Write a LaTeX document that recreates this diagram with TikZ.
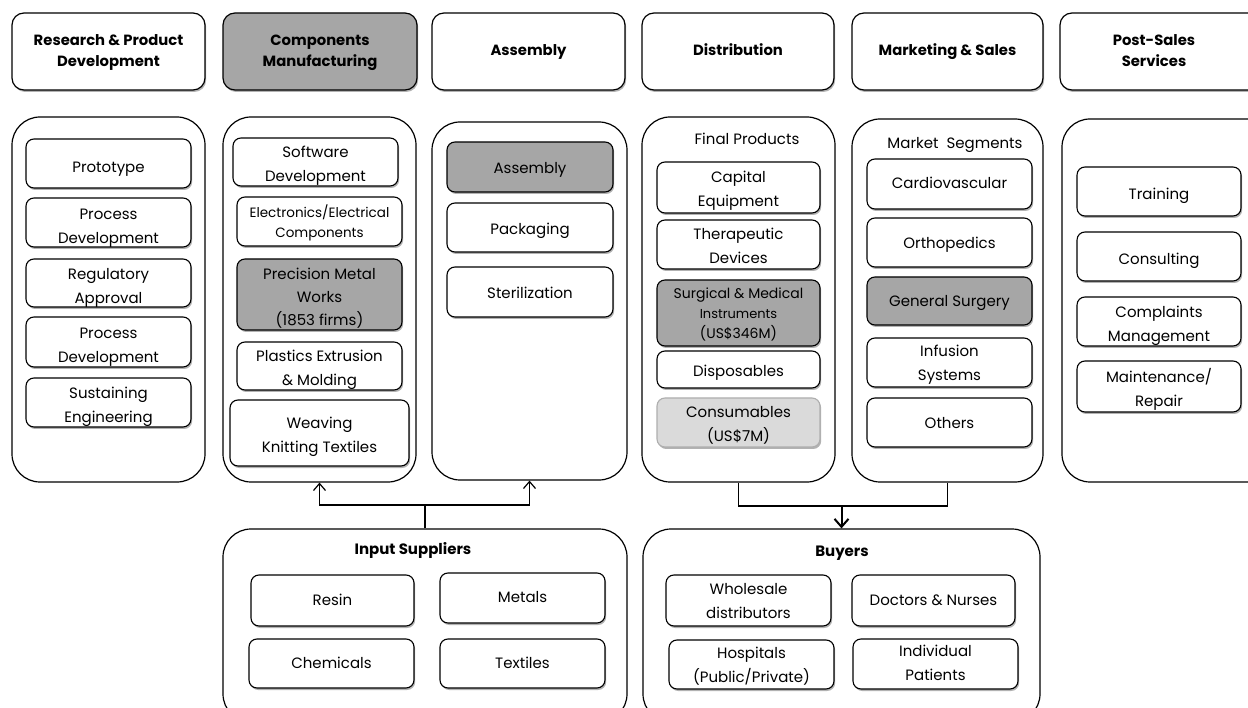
\documentclass[tikz,border=0pt]{standalone}
\usepackage{fontspec}
\setmainfont{Poppins}
\usetikzlibrary{shadows,arrows.meta}
\definecolor{hl}{RGB}{166,166,166}
\definecolor{lt}{RGB}{218,218,218}
\def\tshiftval{0pt}
\newcommand\bx[7]{\node[#6, minimum width={(#4-#2)*1pt}, minimum height={(#5-#3)*1pt}] (#1) at ({(#2+#4)/2},{(#3+#5)/2}) {\raisebox{-\tshiftval}[\height][\depth]{\begin{tabular}{@{}c@{}}#7\end{tabular}}};}
\tikzset{
  ts/.code={\def\tshiftval{#1}},
  shd/.style={drop shadow={shadow xshift=1.2pt, shadow yshift=-2pt, opacity=0.3, fill=black}},
  hdr/.style={ts=0pt, draw, line width=1.2pt, rounded corners=12pt, fill=white, shd, inner sep=0pt, font=\fontsize{14.8}{21}\selectfont\bfseries},
  colbox/.style={ts=0pt, draw, line width=1.2pt, rounded corners=28pt, inner sep=0pt},
  item/.style={ts=0pt, draw, line width=1.1pt, rounded corners=8pt, fill=white, shd, inner sep=0pt, font=\fontsize{15}{24}\selectfont},
  small/.style={font=\fontsize{13.5}{20}\selectfont},
  surg/.style={font=\fontsize{14}{20}\selectfont},
  prec/.style={font=\fontsize{15}{23}\selectfont},
  grey/.style={fill=hl},
  title/.style={inner sep=0pt, font=\fontsize{15}{18}\selectfont},
  btitle/.style={inner sep=0pt, font=\fontsize{15}{18}\selectfont\bfseries},
  conn/.style={line width=1.3pt},
  arr/.style={conn, -{Straight Barb[length=7pt,width=12pt,line width=1.2pt]}},
  arrb/.style={line width=2pt, -{Straight Barb[length=8pt,width=14pt,line width=2pt]}}
}
\begin{document}
\begin{tikzpicture}[x=1pt,y=-1pt]
\useasboundingbox (0,0) rectangle (1248,708);
% headers
\bx{h1}{12}{13}{205}{90}{hdr}{Research \& Product\\Development}
\bx{h2}{223}{13}{417}{90}{hdr,grey}{Components\\Manufacturing}
\bx{h3}{432}{13}{625}{90}{hdr}{Assembly}
\bx{h4}{642}{13}{834}{90}{hdr}{Distribution}
\bx{h5}{852}{13}{1043}{90}{hdr}{Marketing \& Sales}
\bx{h6}{1060}{13}{1270}{90}{hdr}{\hspace*{-22pt}Post-Sales\\\hspace*{-22pt}Services}
% columns
\bx{c1}{12}{117}{205}{482}{colbox}{}
\bx{c2}{223}{117}{416}{482}{colbox}{}
\bx{c3}{432}{122}{627}{480}{colbox}{}
\bx{c4}{642}{117}{835}{482}{colbox}{}
\bx{c5}{852}{119}{1043}{482}{colbox}{}
\bx{c6}{1062}{119}{1280}{482}{colbox}{}
% column 1
\bx{r1}{26}{139}{191}{188}{item,ts=4pt}{Prototype}
\bx{r2}{26}{198}{191}{247}{item,ts=4pt}{Process\\Development}
\bx{r3}{26}{259}{191}{307}{item,ts=3.5pt}{Regulatory\\Approval}
\bx{r4}{26}{317}{191}{367}{item,ts=4pt}{Process\\Development}
\bx{r5}{26}{378}{191}{427}{item,ts=3.5pt}{Sustaining\\Engineering}
% column 2
\bx{m1}{233}{138}{398}{186}{item,ts=3pt}{Software\\Development}
\bx{m2}{237}{197}{402}{246}{item,small,ts=2pt}{Electronics/Electrical\\Components}
\bx{m3}{237}{259}{402}{330}{item,grey,prec,ts=3pt}{Precision Metal\\Works\\(1853 firms)}
\bx{m4}{237}{342}{402}{390}{item,ts=3pt}{Plastics Extrusion\\\& Molding}
\bx{m5}{230}{400}{409}{466}{item,ts=3pt}{Weaving\\Knitting Textiles}
% column 3
\bx{a1}{447}{142}{613}{192}{item,grey,ts=2pt}{Assembly}
\bx{a2}{447}{203}{613}{252}{item,ts=2pt}{Packaging}
\bx{a3}{447}{267}{613}{317}{item,ts=2pt}{Sterilization}
% column 4
\node[title] (fp) at (747,139) {Final Products};
\bx{d1}{657}{162}{820}{213}{item,ts=2pt}{Capital\\Equipment}
\bx{d2}{657}{220}{820}{269}{item,ts=2pt}{Therapeutic\\Devices}
\bx{d3}{657}{280}{820}{346}{item,grey,surg,ts=1.5pt}{Surgical \& Medical\\{\fontsize{13}{20}\selectfont Instruments}\\(US\$346M)}
\bx{d4}{657}{351}{820}{388}{item,ts=2pt}{Disposables}
\bx{d5}{657}{398}{820}{447}{item,fill=lt,draw=lt!80!black,ts=2pt}{Consumables\\(US\$7M)}
% column 5
\node[title] (ms) at (955,145) {Market\ \ Segments};
\bx{s1}{867}{159}{1032}{209}{item}{Cardiovascular}
\bx{s2}{867}{218}{1032}{267}{item,ts=1.5pt}{Orthopedics}
\bx{s3}{867}{277}{1032}{325}{item,grey,ts=1pt}{General Surgery}
\bx{s4}{867}{338}{1032}{387}{item,ts=1pt}{Infusion\\Systems}
\bx{s5}{867}{398}{1032}{447}{item,ts=1pt}{Others}
% column 6
\bx{p1}{1077}{167}{1241}{216}{item,ts=3pt}{Training}
\bx{p2}{1077}{232}{1241}{281}{item,ts=3pt}{Consulting}
\bx{p3}{1077}{297}{1241}{346}{item,ts=3pt}{Complaints\\Management}
\bx{p4}{1077}{361}{1241}{412}{item,ts=3pt}{Maintenance/\\Repair}
% input suppliers
\bx{inp}{223}{529}{627}{722}{colbox}{}
\node[btitle] (inpt) at (413,550) {Input Suppliers};
\bx{i1}{251}{575}{414}{626}{item}{Resin}
\bx{i2}{440}{573}{605}{623}{item}{Metals}
\bx{i3}{249}{639}{414}{688}{item}{Chemicals}
\bx{i4}{440}{639}{605}{688}{item}{Textiles}
% buyers
\bx{buy}{643}{529}{1040}{722}{colbox}{}
\node[btitle] (buyt) at (842,553) {Buyers};
\bx{b1}{666}{575}{831}{626}{item,ts=1pt}{Wholesale\\distributors}
\bx{b2}{852}{575}{1015}{626}{item}{Doctors \& Nurses}
\bx{b3}{669}{640}{834}{689}{item,ts=1pt}{Hospitals\\(Public/Private)}
\bx{b4}{853}{639}{1018}{689}{item}{Individual\\Patients}
% connectors
\coordinate (sj) at (inp.north |- 0,505);
\draw[conn] (inp.north) -- (sj);
\draw[arr] (sj) -| (c2.south);
\draw[arr] (sj) -| (c3.south);
\coordinate (bj) at (buy.north |- 0,506);
\draw[conn] (c4.south) -- (c4.south |- bj) -- (c5.south |- bj) -- (c5.south);
\draw[arrb] (bj) -- (buy.north);
\end{tikzpicture}
\end{document}
